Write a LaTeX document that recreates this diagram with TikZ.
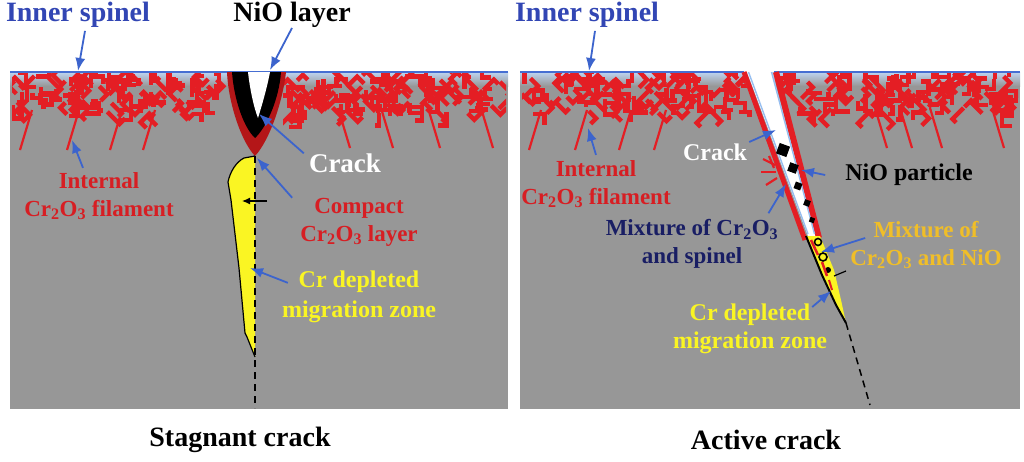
\documentclass[tikz,border=0pt]{standalone}
\usepackage{fontspec}
\setmainfont{Liberation Serif}
\usepackage{tikz}
\usetikzlibrary{arrows.meta,shapes}
\definecolor{steel}{RGB}{151,151,151}
\definecolor{filred}{RGB}{228,30,36}
\definecolor{compred}{RGB}{180,22,24}
\definecolor{txtred}{RGB}{215,30,35}
\definecolor{ptrblue}{RGB}{60,100,205}
\definecolor{spinblue}{RGB}{50,70,180}
\definecolor{surfblue}{RGB}{70,110,210}
\definecolor{spinlight}{RGB}{190,212,240}
\definecolor{wallblue}{RGB}{150,190,240}
\definecolor{mixnavy}{RGB}{25,30,100}
\definecolor{mixgold}{RGB}{240,190,40}
\definecolor{zoneyel}{RGB}{250,245,35}
\tikzstyle{lbl}=[inner sep=0pt, align=center, font=\fontsize{23}{28}\selectfont\bfseries]
\tikzstyle{big}=[inner sep=0pt, font=\fontsize{28}{30}\selectfont\bfseries]
\tikzstyle{pointer}=[ptrblue, line width=1.8pt, -{Latex[length=13pt,width=10pt]}]
\tikzstyle{filament}=[filred, line width=4.4pt]
\tikzstyle{streak}=[filred, line width=2.2pt]
\tikzstyle{crackline}=[black, line width=1.5pt, dash pattern=on 7pt off 5pt]
\newcommand{\meshband}[4]{%
  \pgfmathsetseed{#4}%
  \foreach \k in {1,...,#3}{%
    \pgfmathsetmacro{\mx}{#1+rnd*(#2-#1)}%
    \pgfmathsetmacro{\my}{76+rnd*38}%
    \pgfmathsetmacro{\ma}{45*random(0,7)}%
    \pgfmathsetmacro{\ml}{7+rnd*11}%
    \pgfmathsetmacro{\mb}{\ma+90*(2*random(0,1)-1)}%
    \pgfmathsetmacro{\mm}{4+rnd*7}%
    \draw[filament] (\mx,\my) -- ++(\ma:\ml) -- ++(\mb:\mm);%
  }%
}

\begin{document}
\begin{tikzpicture}[x=1pt,y=-1pt]
\useasboundingbox (0,0) rectangle (1024,461);
\fill[white] (0,0) rectangle (1024,461);
\fill[steel] (10,72) rectangle (508,409);
\fill[steel] (520,72) rectangle (1020,409);
\shade[top color=spinlight, bottom color=steel] (10,72) rectangle (508,86);
\shade[top color=spinlight, bottom color=steel] (520,72) rectangle (1020,86);

% filament mesh
\begin{scope}
\clip (12,73) rectangle (229,135);
\meshband{14}{222}{115}{11}
\end{scope}
\begin{scope}
\clip (283,73) rectangle (506,135);
\meshband{288}{504}{120}{23}
\end{scope}
\begin{scope}
\clip (522,73) -- (742,73) -- (764,135) -- (522,135) -- cycle;
\meshband{524}{742}{115}{37}
\end{scope}
\begin{scope}
\clip (776,73) -- (1018,73) -- (1018,135) -- (794,135) -- cycle;
\meshband{780}{1016}{125}{41}
\end{scope}
\foreach \sx in {20,67,110,143,529,575,619,654}
  \draw[streak] (\sx+12,110) -- (\sx,150);
\foreach \sx in {350,393,440,493,887,912,942,1004}
  \draw[streak] (\sx-12,108) -- (\sx,148);
\draw[surfblue, line width=1.8pt] (10,72) -- (508,72);
\draw[surfblue, line width=1.8pt] (520,72) -- (744,72);
\draw[surfblue, line width=1.8pt] (774,72) -- (1020,72);

% stagnant crack
\fill[compred] (227,72) .. controls (228,100) and (240,140) .. (255,156) .. controls (270,140) and (283,100) .. (286,72) -- cycle;
\fill[black] (232,72) .. controls (234,100) and (244,128) .. (255,138) .. controls (266,128) and (279,100) .. (281,72) -- cycle;
\fill[white] (248,72) .. controls (250,90) and (254,108) .. (258,118) .. controls (262,105) and (267,88) .. (270,72) -- cycle;
\fill[zoneyel] (255,156) -- (244,158) .. controls (236,162) and (230,172) .. (228,182) -- (231,200) -- (239,268) -- (245,333) -- (247,337) -- (255,357) -- cycle;
\draw[black, line width=1.2pt] (255,156) -- (244,158) .. controls (236,162) and (230,172) .. (228,182) -- (231,200) -- (239,268) -- (245,333) -- (247,337) -- (255,357);
\coordinate (tipL) at (255,156);
\coordinate (endL) at (255,408);
\draw[crackline] (tipL) -- (endL);
\coordinate (migA) at (267,201);
\coordinate (migB) at (242,201);
\draw[black, line width=1.2pt, -{Latex[length=8pt,width=7pt]}] (migA) -- (migB);

% active crack
\fill[white] (747,72) -- (772,72) -- (816,236) -- (808,236) -- cycle;
\draw[filred, line width=5pt] (744,72) -- (805,240);
\draw[filred, line width=6pt] (776,72) -- (819,238);
\draw[wallblue, line width=1.4pt] (748.5,72) -- (808,234);
\draw[wallblue, line width=1.4pt] (771.5,72) -- (814.5,234);
\foreach \px/\py/\ps in {783/150/5.5, 793/168/4.5, 798/186/3.5, 807/203/3, 812/220/2.5}
  \fill[black, rotate around={-20:(\px,\py)}] (\px-\ps,\py-\ps) rectangle (\px+\ps,\py+\ps);
\draw[filred, line width=2.2pt] (775,165) -- (763,159);
\draw[filred, line width=2.2pt] (776,172) -- (761,172);
\draw[filred, line width=2.2pt] (777,178) -- (766,185);
\draw[filred, line width=2.2pt] (774,168) -- (769,156);
\fill[zoneyel] (806,236) -- (820,236) -- (834,270) -- (841,300) -- (846,323) -- (836,305) -- (822,275) -- cycle;
\draw[black, line width=2pt] (806,236) -- (822,275) -- (836,305) -- (846,323);
\draw[black, line width=1.6pt] (818,242) circle (3.5);
\draw[black, line width=1.6pt] (823,257) circle (4);
\fill[black] (828,270) circle (3);
\draw[filred, line width=2.5pt] (811,240) -- (818,255);
\draw[filred, line width=2.5pt] (822,262) -- (827,276);
\draw[filred, line width=2pt] (829,280) -- (832,290);
\draw[black, line width=1.2pt] (834,276) -- (846,271);
\coordinate (tipR) at (846,323);
\coordinate (endR) at (870,405);
\draw[crackline] (tipR) -- (endR);

% labels
\node[big, spinblue] (ispL) at (78,15) {Inner spinel};
\node[big] (nioL) at (292,15) {NiO layer};
\node[inner sep=0pt, white, font=\fontsize{27}{30}\selectfont\bfseries] (crkL) at (345,163) {Crack};
\node[lbl, txtred] (cmpL) at (359,222) {Compact\\Cr\textsubscript{2}O\textsubscript{3} layer};
\node[lbl, txtred] (filL) at (99,196) {Internal\\Cr\textsubscript{2}O\textsubscript{3} filament};
\node[lbl, zoneyel, font=\fontsize{24}{30}\selectfont\bfseries] (czL) at (359,297) {Cr depleted\\migration zone};
\node[big, spinblue] (ispR) at (587,15) {Inner spinel};
\node[lbl, white, font=\fontsize{24}{28}\selectfont\bfseries] (crkR) at (715,152) {Crack};
\node[lbl, font=\fontsize{24}{28}\selectfont\bfseries] (npR) at (909,175) {NiO particle};
\node[lbl, txtred] (filR) at (596,184) {Internal\\Cr\textsubscript{2}O\textsubscript{3} filament};
\node[lbl, mixnavy] (mixsR) at (692,244) {Mixture of Cr\textsubscript{2}O\textsubscript{3}\\and spinel};
\node[lbl, mixgold] (mixnR) at (926,245) {Mixture of\\Cr\textsubscript{2}O\textsubscript{3} and NiO};
\node[lbl, zoneyel, font=\fontsize{24}{28}\selectfont\bfseries] (czR) at (750,329) {Cr depleted\\migration zone};
\node[big] (capL) at (240,440) {Stagnant crack};
\node[big] (capR) at (766,440) {Active crack};

% pointers
\coordinate (ispLt) at (78,71);
\coordinate (nioLt) at (270,70);
\coordinate (crkLt) at (259,114);
\coordinate (cmpLt) at (257,158);
\coordinate (filLt) at (72,140);
\coordinate (czLt) at (250,268);
\coordinate (ispRt) at (589,71);
\coordinate (crkRt) at (776,130);
\coordinate (npRt) at (801,170);
\coordinate (filRt) at (588,128);
\coordinate (mixsRt) at (786,184);
\coordinate (mixnRt) at (821,252);
\coordinate (czRt) at (831,291);
\draw[pointer] ([xshift=7pt,yshift=-3pt]ispL.south) -- (ispLt);
\draw[pointer] (nioL.south) -- (nioLt);
\draw[pointer] ([xshift=-5pt]crkL.north west) -- (crkLt);
\draw[pointer] ([xshift=-8pt]cmpL.north west) -- (cmpLt);
\draw[pointer] ([xshift=-16pt,yshift=4pt]filL.north) -- (filLt);
\draw[pointer] ([xshift=6pt,yshift=-12pt]czL.north west) -- (czLt);
\draw[pointer] ([xshift=8pt,yshift=-3pt]ispR.south) -- (ispRt);
\draw[pointer] ([xshift=2pt,yshift=10pt]crkR.east) -- (crkRt);
\draw[pointer] ([xshift=-20pt]npR.west) -- (npRt);
\draw[pointer] ([yshift=5pt]filR.north) -- (filRt);
\draw[pointer] ([xshift=-10pt,yshift=6pt]mixsR.north east) -- (mixsRt);
\draw[pointer] ([xshift=15pt,yshift=7pt]mixnR.west) -- (mixnRt);
\draw[pointer] ([xshift=-15pt,yshift=22pt]czR.east) -- (czRt);
\end{tikzpicture}
\end{document}
